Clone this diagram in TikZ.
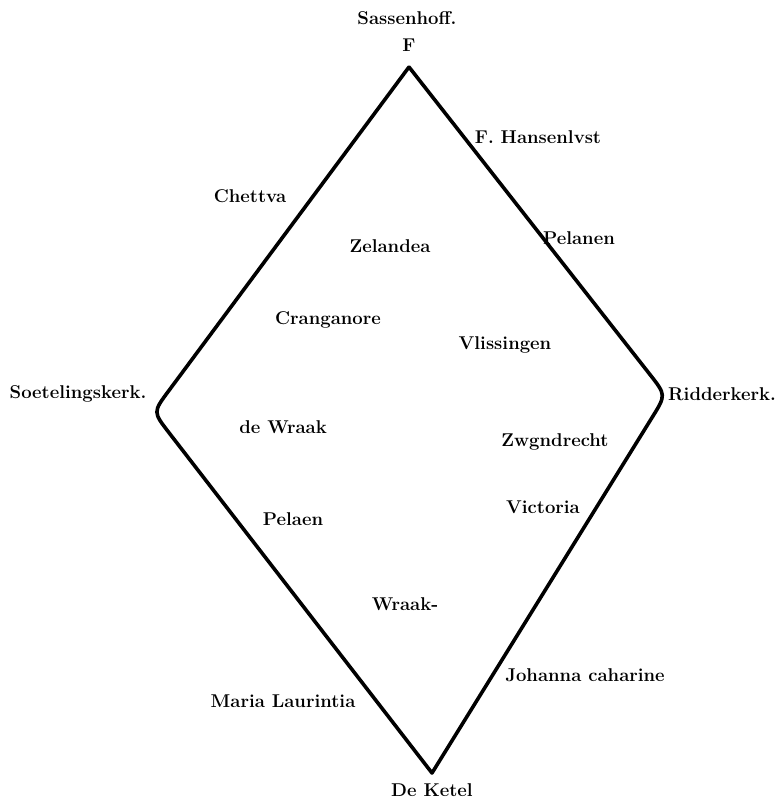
\documentclass[tikz,border=0pt]{standalone}
\usetikzlibrary{calc}
\tikzset{
  place/.style={font=\fontsize{18.5}{22}\selectfont\bfseries, inner sep=1pt},
  coast/.style={line width=3.6pt, line join=round, line cap=round}
}
\begin{document}
\begin{tikzpicture}[x=1pt,y=-1pt]
\useasboundingbox (0,0) rectangle (781,800);
% corners of the diamond
\coordinate (top) at (409,67);
\coordinate (lft) at (153,412);
\coordinate (rgt) at (666,395);
\coordinate (bot) at (432,773);
\draw[coast] (top) -- ($(lft)!26pt!(top)$) .. controls (lft) .. ($(lft)!26pt!(bot)$)
  -- (bot)
  -- ($(rgt)!26pt!(bot)$) .. controls (rgt) .. ($(rgt)!26pt!(top)$)
  -- (top);
% names
\node[place] (sassen) at (407,18) {Sassenhoff.};
\node[place] (f) at (409,45) {F};
\node[place] (hansen) at (538,137) {F. Hansenlvst};
\node[place] (chettva) at (250,196) {Chettva};
\node[place] (zelandea) at (390,246) {Zelandea};
\node[place] (pelanen) at (579,238) {Pelanen};
\node[place] (cranga) at (328,320) {Cranganore};
\node[place] (vliss) at (505,345) {Vlissingen};
\node[place] (soetel) at (78,394) {Soetelingskerk.};
\node[place] (ridder) at (722,394) {Ridderkerk.};
\node[place] (dewraak) at (283,427) {de Wraak};
\node[place] (zwgn) at (555,442) {Zwgndrecht};
\node[place] (victoria) at (543,507) {Victoria};
\node[place] (pelaen) at (293,519) {Pelaen};
\node[place] (wraak) at (405,604) {Wraak-};
\node[place] (maria) at (283,701) {Maria Laurintia};
\node[place] (johanna) at (585,675) {Johanna caharine};
\node[place] (ketel) at (432,790) {De Ketel};
\end{tikzpicture}
\end{document}
